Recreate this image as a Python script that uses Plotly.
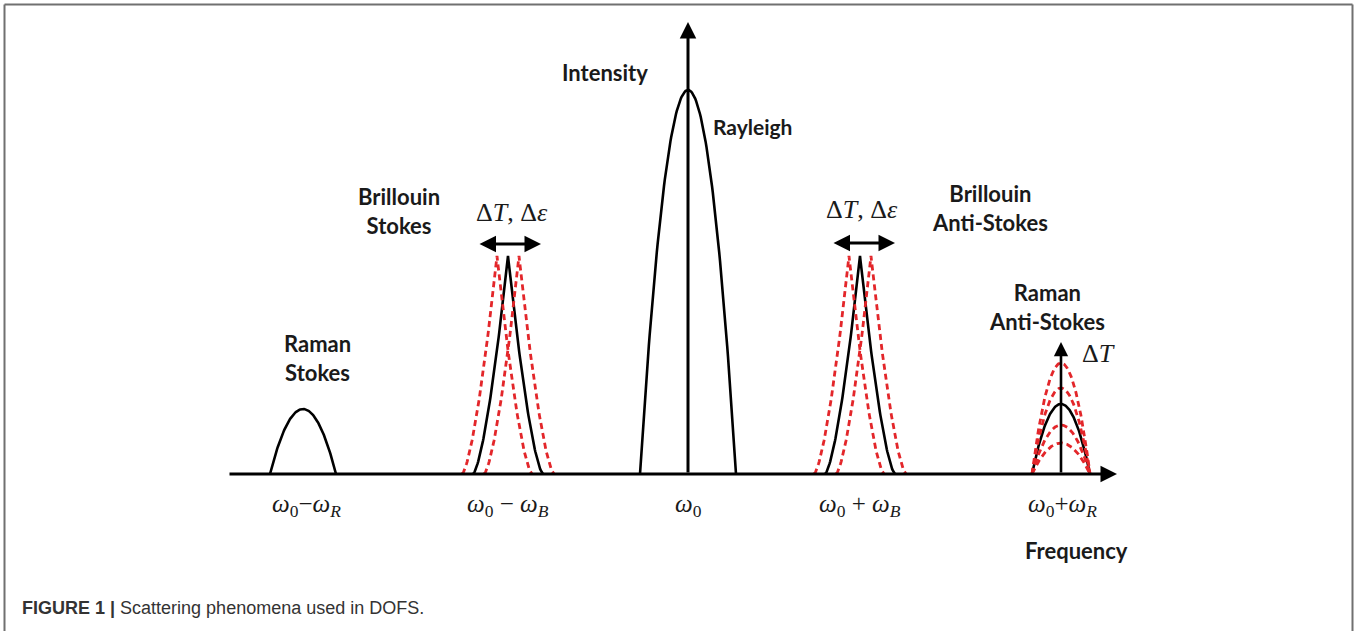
import numpy as np
import plotly.graph_objects as go

# ---- data (frequency offset from omega0, intensity in arbitrary units) ----
peak_names = ["Raman Stokes", "Brillouin Stokes", "Rayleigh", "Brillouin Anti-Stokes", "Raman Anti-Stokes"]
peak_centers = [-385, -180, 0, 172, 373]
peak_heights = [65, 218, 384, 218, 70]
peak_halfwidths = [33, 35, 48, 35, 29]
peak_shapes = ["parabola", "cusp", "parabola", "cusp", "parabola"]

brillouin_shift = [-11, 11]            # dashed red copies of Brillouin peaks (ΔT, Δε)
raman_as_dashed_heights = [111, 86, 49, 31]   # dashed red Raman anti-Stokes (ΔT)

tick_positions = [-382, -180, 0, 172, 374]
tick_labels = [
    "<i>ω</i><sub>0</sub>−<i>ω</i><sub><i>R</i></sub>",
    "<i>ω</i><sub>0</sub> − <i>ω</i><sub><i>B</i></sub>",
    "<i>ω</i><sub>0</sub>",
    "<i>ω</i><sub>0</sub> + <i>ω</i><sub><i>B</i></sub>",
    "<i>ω</i><sub>0</sub>+<i>ω</i><sub><i>R</i></sub>",
]

X_RANGE = [-688, 671]
Y_RANGE = [-157, 474]
RED = "#e3262a"
LABEL_FONT = dict(family="Lato, Open Sans, sans-serif", size=22, color="#1a1a1a")
MATH_FONT = dict(family="Liberation Serif, Times New Roman, serif", size=26, color="#1a1a1a")
TICK_FONT = dict(family="Liberation Serif, Times New Roman, serif", size=25, color="#1a1a1a")


def peak_curve(center, height, hw, shape, n=121):
    u = np.linspace(-1, 1, n)
    if shape == "parabola":
        y = height * (1 - u ** 2)
    else:
        y = height * (1 - np.abs(u)) ** 1.5
    return center + hw * u, y


fig = go.Figure()

# black solid peaks
for c, h, w, s in zip(peak_centers, peak_heights, peak_halfwidths, peak_shapes):
    x, y = peak_curve(c, h, w, s)
    fig.add_trace(go.Scatter(x=x, y=y, mode="lines",
                             line=dict(color="black", width=2.6), hoverinfo="skip"))

# dashed red shifted Brillouin peaks
for i in (1, 3):
    for d in brillouin_shift:
        x, y = peak_curve(peak_centers[i] + d, peak_heights[i], peak_halfwidths[i], "cusp")
        fig.add_trace(go.Scatter(x=x, y=y, mode="lines",
                                 line=dict(color=RED, width=2.8, dash="6px,4px"), hoverinfo="skip"))

# dashed red Raman anti-Stokes peaks
for h in raman_as_dashed_heights:
    x, y = peak_curve(peak_centers[4], h, peak_halfwidths[4], "parabola")
    fig.add_trace(go.Scatter(x=x, y=y, mode="lines",
                             line=dict(color=RED, width=2.8, dash="6px,4px"), hoverinfo="skip"))

annotations = []


def arrow(x0, y0, x1, y1, both=False, width=3):
    annotations.append(dict(x=x1, y=y1, ax=x0, ay=y0, xref="x", yref="y", axref="x", ayref="y",
                            text="", showarrow=True, arrowhead=2, arrowsize=1.1, arrowwidth=width,
                            arrowcolor="black", arrowside="end+start" if both else "end",
                            startarrowhead=2, startarrowsize=1.1))


# axes
arrow(-460, 0, 429, 0)
arrow(0, 0, 0, 452)
arrow(peak_centers[4], 0, peak_centers[4], 132, width=2.6)
# Brillouin double arrows
arrow(-210, 230, -147, 230, both=True)
arrow(144, 231, 207, 231, both=True)


def label(x, y, text, font, xanchor="center"):
    annotations.append(dict(x=x, y=y, xref="x", yref="y", text=text, showarrow=False,
                            font=font, xanchor=xanchor, yanchor="middle", align="center"))


label(-83, 402, "<b>Intensity</b>", LABEL_FONT)
label(23, 348, "<b>Rayleigh</b>", dict(LABEL_FONT, size=21), xanchor="left")
label(-289, 263, "<b>Brillouin<br>Stokes</b>", LABEL_FONT)
label(242, 266, "<b>Brillouin<br>Anti-Stokes</b>", LABEL_FONT, xanchor="left")
label(-371, 116, "<b>Raman<br>Stokes</b>", LABEL_FONT)
label(359, 167, "<b>Raman<br>Anti-Stokes</b>", LABEL_FONT)
label(388, -76, "<b>Frequency</b>", LABEL_FONT)
label(-176, 262, "Δ<i>T</i>, Δ<i>ε</i>", MATH_FONT)
label(174, 265, "Δ<i>T</i>, Δ<i>ε</i>", MATH_FONT)
label(410, 121, "Δ<i>T</i>", MATH_FONT)
for tp, tl in zip(tick_positions, tick_labels):
    label(tp, -31, tl, TICK_FONT)

# caption
annotations.append(dict(x=20 / 1359, y=1 - 608 / 631, xref="paper", yref="paper",
                        xanchor="left", yanchor="middle", showarrow=False,
                        text="<b>FIGURE 1 |</b> Scattering phenomena used in DOFS.",
                        font=dict(family="Liberation Sans, Arial, sans-serif", size=18, color="#333333")))

# frame (left, top, right)
shapes = [
    dict(type="line", xref="paper", yref="paper", x0=4.5 / 1359, x1=4.5 / 1359, y0=0, y1=1 - 4.5 / 631,
         line=dict(color="#707070", width=2)),
    dict(type="line", xref="paper", yref="paper", x0=4.5 / 1359, x1=1352.5 / 1359, y0=1 - 4.5 / 631, y1=1 - 4.5 / 631,
         line=dict(color="#707070", width=2)),
    dict(type="line", xref="paper", yref="paper", x0=1352.5 / 1359, x1=1352.5 / 1359, y0=0, y1=1 - 4.5 / 631,
         line=dict(color="#707070", width=2)),
]

fig.update_layout(
    width=1359, height=631,
    margin=dict(l=0, r=0, t=0, b=0),
    paper_bgcolor="white", plot_bgcolor="white",
    showlegend=False,
    xaxis=dict(range=X_RANGE, visible=False, fixedrange=True),
    yaxis=dict(range=Y_RANGE, visible=False, fixedrange=True),
    annotations=annotations,
    shapes=shapes,
)

fig.write_html("out.html", config={"displayModeBar": False},
               post_script="document.body.style.margin='0';document.body.style.overflow='hidden';")
